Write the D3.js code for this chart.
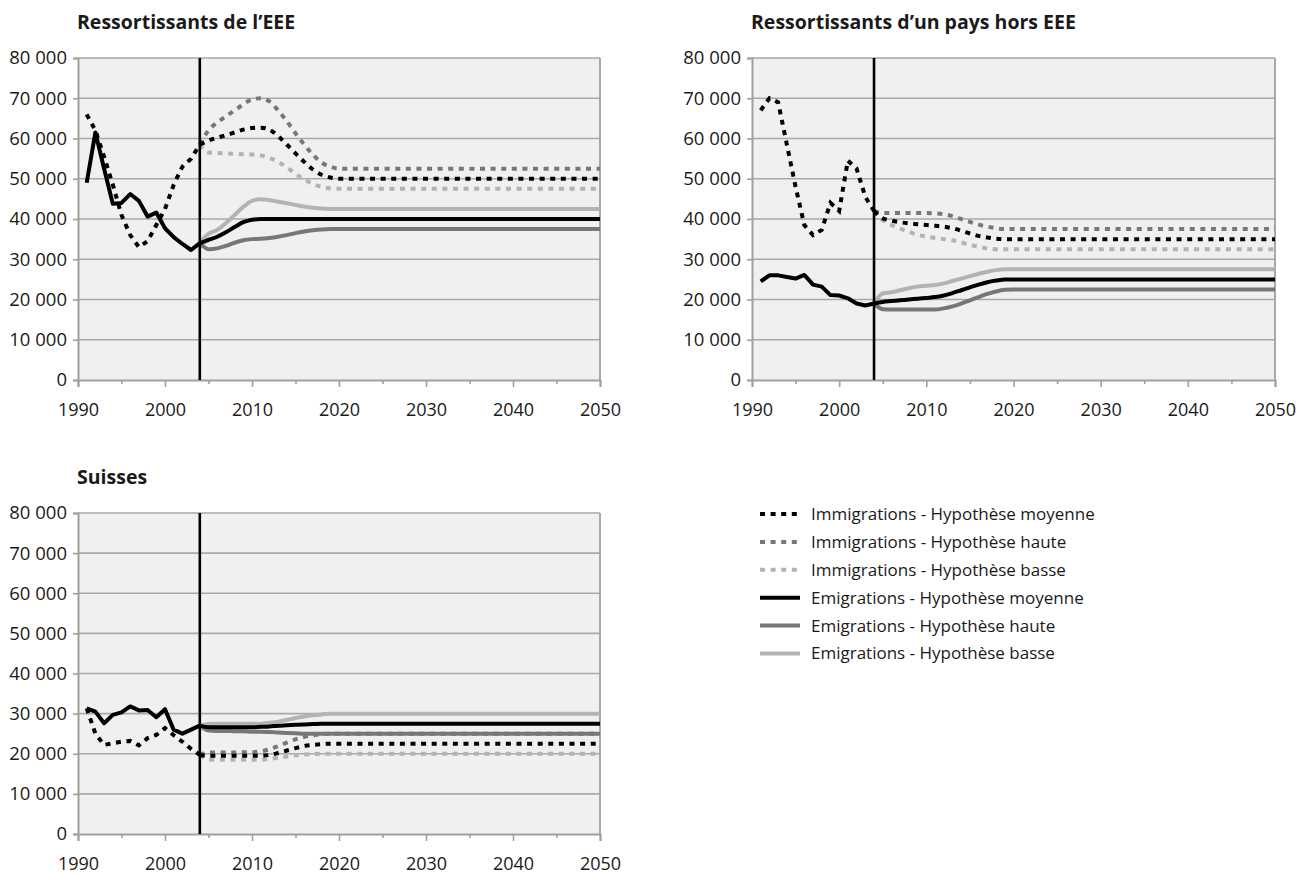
<!DOCTYPE html>
<html><head><meta charset="utf-8">
<script src="https://cdn.jsdelivr.net/npm/d3@7"></script>
<style>
body{margin:0;background:#fff;}
text{font-family:"Open Sans",sans-serif;fill:#1a1a1a;}
</style>
</head><body>
<svg id="c" width="1299" height="874"></svg>
<script>
// ---------- data ----------
const histYears = [1991,1992,1993,1994,1995,1996,1997,1998,1999,2000,2001,2002,2003,2004];
const projYears = [2004,2005,2006,2007,2008,2009,2010,2011,2012,2013,2014,2015,2016,2017,2018,2019,2020,2050];
const yTickValues = [0,10000,20000,30000,40000,50000,60000,70000,80000];
const xTickValues = [1990,1995,2000,2005,2010,2015,2020,2025,2030,2035,2040,2045,2050];
const panelTitles = ["Ressortissants de l\u2019EEE","Ressortissants d\u2019un pays hors EEE","Suisses"];
const legendLabels = [
  "Immigrations - Hypoth\u00e8se moyenne",
  "Immigrations - Hypoth\u00e8se haute",
  "Immigrations - Hypoth\u00e8se basse",
  "Emigrations - Hypoth\u00e8se moyenne",
  "Emigrations - Hypoth\u00e8se haute",
  "Emigrations - Hypoth\u00e8se basse"];

// Ressortissants de l'EEE
const eeeImmHist  = [66000,62000,55500,48500,41000,36000,33000,34500,38500,42500,48500,53000,55000,58500];
const eeeEmigHist = [49000,61500,52500,43800,44000,46200,44500,40600,41600,37700,35500,33800,32300,34000];
const eeeImmMoy   = [58500,59500,60200,60800,61500,62200,62600,62700,62200,60600,58500,56300,54200,52300,51000,50300,50000,50000];
const eeeImmHaute = [58500,62000,64000,65500,67000,68500,69700,70000,69200,67000,64300,61300,58500,56000,54000,53000,52500,52500];
const eeeImmBasse = [58500,56500,56400,56300,56200,56100,56000,55800,55200,54200,52800,51200,49800,48700,48000,47600,47500,47500];
const eeeEmigMoy  = [34000,34800,35600,36700,38000,39200,39800,40000,40000,40000,40000,40000,40000,40000,40000,40000,40000,40000];
const eeeEmigHaute= [34000,32500,32700,33300,34100,34700,35000,35100,35300,35600,36000,36500,36900,37200,37400,37500,37500,37500];
const eeeEmigBasse= [34000,36300,37300,39000,41000,43000,44500,44900,44700,44300,43900,43500,43100,42800,42600,42500,42500,42500];

// Ressortissants d'un pays hors EEE
const horsImmHist  = [67000,70000,69000,58500,48000,38500,36000,37300,44000,42000,54500,52500,45500,42000];
const horsEmigHist = [24500,26000,26000,25600,25200,26100,23700,23200,21100,21000,20300,19000,18500,19000];
const horsImmMoy   = [42000,40200,39600,39200,38900,38700,38500,38300,38100,37700,37100,36400,35800,35400,35100,35000,35000,35000];
const horsImmHaute = [42000,41500,41500,41500,41500,41500,41500,41400,41200,40700,40000,39300,38600,38100,37700,37500,37500,37500];
const horsImmBasse = [42000,39700,38500,37600,36800,36100,35600,35300,35000,34700,34200,33600,33100,32700,32500,32500,32500,32500];
const horsEmigMoy  = [19000,19400,19600,19800,20000,20200,20400,20600,21000,21600,22300,23000,23700,24300,24700,25000,25000,25000];
const horsEmigHaute= [19000,17600,17500,17500,17500,17500,17500,17500,17800,18300,19000,19800,20600,21400,22000,22400,22500,22500];
const horsEmigBasse= [19000,21500,21800,22300,22800,23200,23400,23600,24000,24600,25200,25800,26400,26900,27300,27500,27500,27500];

// Suisses
const suiImmHist  = [31300,25000,22200,22600,23000,23200,22100,23900,24700,26400,24600,23000,21200,19700];
const suiEmigHist = [31300,30500,27600,29700,30300,31800,30800,30900,29100,31100,26000,25000,26000,27000];
const suiImmMoy   = [19700,19500,19500,19500,19500,19500,19500,19500,19700,20200,20800,21400,21900,22200,22400,22500,22500,22500];
const suiImmHaute = [19700,20300,20300,20300,20300,20400,20400,20600,21100,21900,22800,23600,24200,24600,24900,25000,25000,25000];
const suiImmBasse = [19700,18600,18500,18500,18500,18500,18500,18500,18700,19000,19300,19600,19800,19900,20000,20000,20000,20000];
const suiEmigMoy  = [27000,26600,26600,26600,26600,26600,26600,26700,26800,27000,27100,27200,27300,27400,27500,27500,27500,27500];
const suiEmigHaute= [27000,25800,25700,25700,25600,25600,25500,25500,25400,25300,25200,25100,25000,25000,25000,25000,25000,25000];
const suiEmigBasse= [27000,27400,27500,27500,27500,27500,27500,27500,27700,28000,28400,28900,29300,29600,29800,30000,30000,30000];

const projectionStart = 2004;

// ---------- styles ----------
const colMoy = "#000000", colHaute = "#777777", colBasse = "#b3b3b3";
const dots = "5,5.6";
const legendStyles = [
  {c:colMoy, d:dots},{c:colHaute, d:dots},{c:colBasse, d:dots},
  {c:colMoy, d:null},{c:colHaute, d:null},{c:colBasse, d:null}];

const panels = [
  {title:panelTitles[0], left:78, right:600, top:58, bottom:380,
   immHist:eeeImmHist, emigHist:eeeEmigHist,
   proj:[eeeImmMoy,eeeImmHaute,eeeImmBasse,eeeEmigMoy,eeeEmigHaute,eeeEmigBasse]},
  {title:panelTitles[1], left:752, right:1275, top:58, bottom:380,
   immHist:horsImmHist, emigHist:horsEmigHist,
   proj:[horsImmMoy,horsImmHaute,horsImmBasse,horsEmigMoy,horsEmigHaute,horsEmigBasse]},
  {title:panelTitles[2], left:78, right:600, top:513, bottom:834,
   immHist:suiImmHist, emigHist:suiEmigHist,
   proj:[suiImmMoy,suiImmHaute,suiImmBasse,suiEmigMoy,suiEmigHaute,suiEmigBasse]}
];

const svg = d3.select("#c");
svg.append("rect").attr("width",1299).attr("height",874).attr("fill","#fff");
const fmt = d3.formatLocale({decimal:",",thousands:"\u00a0",grouping:[3],currency:["",""]}).format(",");
const gridCol = "#a9a9a9", axisCol = "#a0a0a0";

panels.forEach(p => {
  const x = d3.scaleLinear().domain([1990,2050]).range([p.left,p.right]);
  const y = d3.scaleLinear().domain([0,80000]).range([p.bottom,p.top]);
  const g = svg.append("g");

  g.append("text").attr("x",p.left-1).attr("y",p.top-29)
    .attr("font-size",19.5).attr("font-weight","bold").text(p.title);

  g.append("rect").attr("x",p.left).attr("y",p.top)
    .attr("width",p.right-p.left).attr("height",p.bottom-p.top).attr("fill","#eff0ef");

  // grid
  g.append("g").selectAll("line").data(yTickValues.filter(v=>v>0)).join("line")
    .attr("x1",p.left).attr("x2",p.right).attr("y1",d=>y(d)).attr("y2",d=>y(d))
    .attr("stroke",gridCol).attr("stroke-width",1.6);
  // right border
  g.append("line").attr("x1",p.right).attr("x2",p.right).attr("y1",p.top).attr("y2",p.bottom)
    .attr("stroke",axisCol).attr("stroke-width",1.8);

  // y axis
  const ya = g.append("g").attr("transform",`translate(${p.left},0)`)
    .call(d3.axisLeft(y).tickValues(yTickValues).tickFormat(fmt).tickSize(5).tickPadding(6));
  ya.select(".domain").attr("stroke",axisCol).attr("stroke-width",2);
  ya.selectAll(".tick line").attr("stroke",axisCol).attr("stroke-width",1.6);
  ya.selectAll(".tick text").attr("font-size",18.5).attr("font-family",'"Open Sans",sans-serif').attr("fill","#1a1a1a");

  // x axis
  const xa = g.append("g").attr("transform",`translate(0,${p.bottom})`)
    .call(d3.axisBottom(x).tickValues(xTickValues).tickFormat(d=> d%10===0 ? d : "").tickSize(7).tickPadding(16));
  xa.select(".domain").attr("stroke",axisCol).attr("stroke-width",2);
  xa.selectAll(".tick line").attr("stroke",axisCol).attr("stroke-width",1.6)
    .attr("y2",d=> d%10===0 ? 7 : 4);
  xa.selectAll(".tick text").attr("font-size",18).attr("font-family",'"Open Sans",sans-serif').attr("fill","#1a1a1a");

  const lineP = d3.line().x(d=>x(d[0])).y(d=>y(d[1])).curve(d3.curveMonotoneX);
  const lineH = d3.line().x(d=>x(d[0])).y(d=>y(d[1]));
  const drawOrder = [2,1,5,4,3,0];
  drawOrder.forEach(i => {
    const st = legendStyles[i];
    const pts = projYears.map((yr,k)=>[yr,p.proj[i][k]]);
    g.append("path").attr("d",lineP(pts)).attr("fill","none")
      .attr("stroke",st.c).attr("stroke-width",4)
      .attr("stroke-dasharray",st.d).attr("stroke-linejoin","round");
  });
  // history (moyenne styles)
  g.append("path").attr("d",lineH(histYears.map((yr,k)=>[yr,p.emigHist[k]])))
    .attr("fill","none").attr("stroke",colMoy).attr("stroke-width",4).attr("stroke-linejoin","round");
  g.append("path").attr("d",lineH(histYears.map((yr,k)=>[yr,p.immHist[k]])))
    .attr("fill","none").attr("stroke",colMoy).attr("stroke-width",4).attr("stroke-dasharray",dots);

  // projection start line
  g.append("line").attr("x1",x(projectionStart)).attr("x2",x(projectionStart))
    .attr("y1",p.top).attr("y2",p.bottom).attr("stroke","#000").attr("stroke-width",2.6);
});

// legend
const lg = svg.append("g");
legendLabels.forEach((lab,i)=>{
  const yy = 514 + i*27.9;
  lg.append("line").attr("x1",760).attr("x2",800).attr("y1",yy).attr("y2",yy)
    .attr("stroke",legendStyles[i].c).attr("stroke-width",4)
    .attr("stroke-dasharray",legendStyles[i].d);
  lg.append("text").attr("x",811).attr("y",yy).attr("dy","0.35em")
    .attr("font-size",17).text(lab);
});
</script>
</body></html>
